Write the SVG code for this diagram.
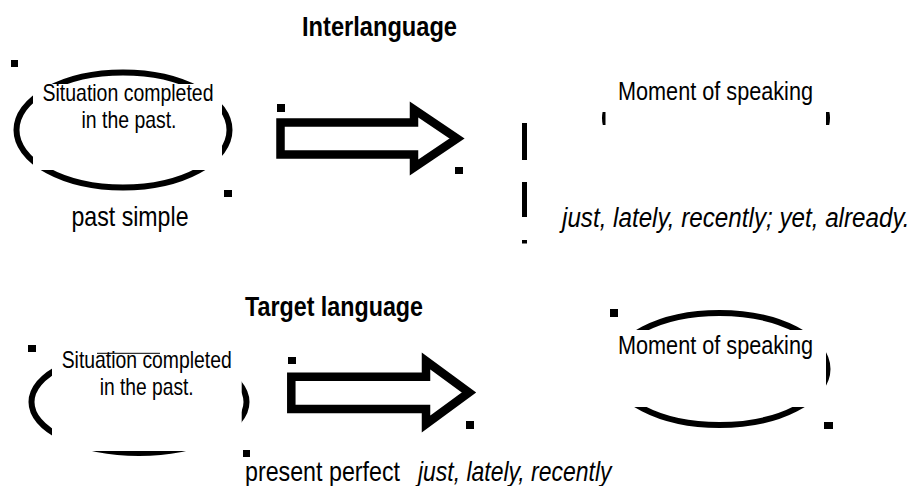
<svg xmlns="http://www.w3.org/2000/svg" width="913" height="486" viewBox="0 0 913 486">
<style>
  .t { font-family: "Liberation Sans Narrow", "Arial Narrow", "Liberation Sans", Arial, sans-serif; fill: #000; }
  .title { font-size: 28px; font-weight: bold; }
  .body { font-size: 28px; }
  .box { font-size: 24px; }
  .mom { font-size: 26px; }
  .it { font-style: italic; }
  .ell { fill: none; stroke: #000; stroke-width: 6; }
  .arrow { fill: #fff; stroke: #000; stroke-width: 8.5; stroke-linejoin: miter; stroke-miterlimit: 10; }
  .cover { fill: #fff; }
  .h { fill: #000; }
</style>
<defs>
  <clipPath id="slivers">
    <rect x="601" y="112" width="4.5" height="13"/>
    <rect x="826" y="112" width="4.5" height="13"/>
  </clipPath>
</defs>
<rect width="913" height="486" fill="#fff"/>

<g id="title-interlanguage">
  <text class="t title" x="302" y="36" textLength="155" lengthAdjust="spacingAndGlyphs">Interlanguage</text>
</g>

<g id="node-past-situation">
  <ellipse class="ell" cx="123" cy="130" rx="106.5" ry="57.5"/>
  <rect class="cover" x="33" y="84" width="189" height="86"/>
  <text class="t box" text-anchor="middle" x="128" y="101" textLength="171" lengthAdjust="spacingAndGlyphs">Situation completed</text>
  <text class="t box" text-anchor="middle" x="129" y="128" textLength="95" lengthAdjust="spacingAndGlyphs">in the past.</text>
  <rect class="h" x="11" y="60" width="7" height="7"/>
  <rect class="h" x="224" y="190" width="8" height="7"/>
</g>

<g id="label-past-simple">
  <text class="t body" text-anchor="middle" x="130" y="226" textLength="117" lengthAdjust="spacingAndGlyphs">past simple</text>
</g>

<g id="arrow-top">
  <path class="arrow" d="M280.5,122.5 H414 V109.5 L457,138.5 L414,167.5 V154.5 H280.5 Z"/>
  <rect class="h" x="277" y="104" width="8" height="8"/>
  <rect class="h" x="455" y="167" width="8" height="7"/>
</g>

<g id="node-moment-top">
  <ellipse class="ell" cx="716" cy="118" rx="111" ry="55" clip-path="url(#slivers)"/>
  <text class="t mom" text-anchor="middle" x="715.5" y="100" textLength="195" lengthAdjust="spacingAndGlyphs">Moment of speaking</text>
  <rect class="h" x="522" y="123" width="5" height="37"/>
  <rect class="h" x="522" y="182" width="5" height="35"/>
  <rect class="h" x="522" y="240" width="5" height="3.5"/>
</g>

<g id="label-adverbs-top" transform="translate(562,227) scale(0.865,1)">
  <text class="t body it" x="0" y="0">just, lately, recently; yet, already.</text>
</g>

<g id="title-target">
  <text class="t title" x="245" y="316" textLength="178" lengthAdjust="spacingAndGlyphs">Target language</text>
</g>

<g id="node-target-situation">
  <ellipse class="ell" cx="139" cy="402" rx="107.5" ry="51"/>
  <rect class="cover" x="52" y="340" width="189.7" height="12.8"/>
  <rect class="cover" x="52" y="352" width="45" height="3"/>
  <rect class="cover" x="160" y="352" width="81.7" height="3"/>
  <rect class="cover" x="52" y="353.8" width="189.7" height="97.2"/>
  <text class="t box" text-anchor="middle" x="146.7" y="368" textLength="170" lengthAdjust="spacingAndGlyphs">Situation completed</text>
  <text class="t box" text-anchor="middle" x="146.7" y="395" textLength="94" lengthAdjust="spacingAndGlyphs">in the past.</text>
  <rect class="h" x="28" y="345" width="8" height="7"/>
  <rect class="h" x="243" y="450" width="7" height="7"/>
</g>

<g id="arrow-bottom">
  <path class="arrow" d="M291.3,376.7 H426 V361 L469,392.5 L426,424 V409 H291.3 Z"/>
  <rect class="h" x="288" y="357" width="8" height="7"/>
  <rect class="h" x="466" y="421" width="8" height="8"/>
</g>

<g id="node-moment-bottom">
  <ellipse class="ell" cx="719.5" cy="369" rx="108" ry="56"/>
  <rect class="cover" x="600" y="330" width="226" height="77"/>
  <text class="t mom" text-anchor="middle" x="715.5" y="354" textLength="195" lengthAdjust="spacingAndGlyphs">Moment of speaking</text>
  <rect class="h" x="610" y="309" width="8" height="8"/>
  <rect class="h" x="824" y="422" width="9" height="7"/>
</g>

<g id="label-present-perfect">
  <text class="t body" x="245" y="481" textLength="155" lengthAdjust="spacingAndGlyphs">present perfect</text>
  <g transform="translate(418,481) scale(0.82,1)">
    <text class="t body it" x="0" y="0">just, lately, recently</text>
  </g>
</g>
</svg>
